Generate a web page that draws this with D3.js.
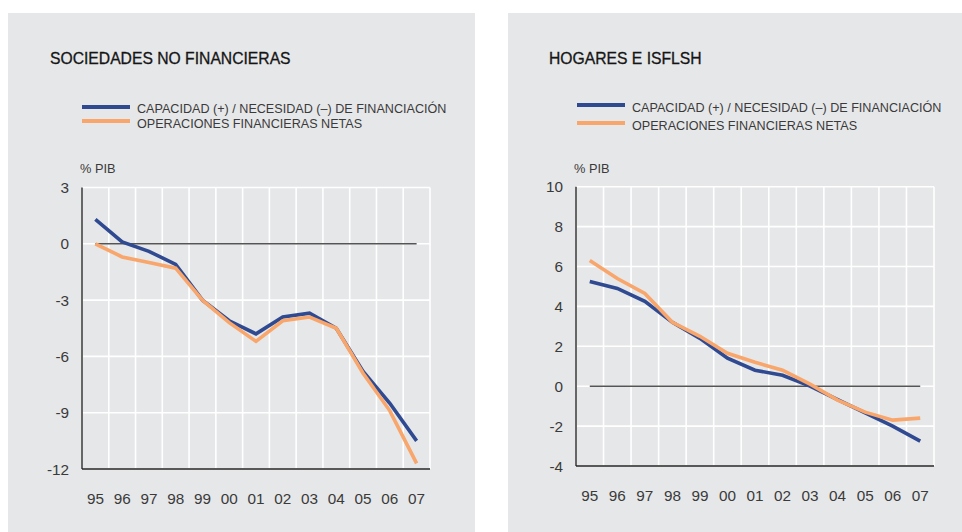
<!DOCTYPE html>
<html>
<head>
<meta charset="utf-8">
<script src="https://cdn.jsdelivr.net/npm/d3@7"></script>
<style>
  body { margin: 0; background: #fff; }
  text { font-family: "Liberation Sans", Arial, sans-serif; }
</style>
</head>
<body>
<svg id="chart" width="962" height="532"></svg>
<script>
// years on the x axis
const years = ["95", "96", "97", "98", "99", "00", "01", "02", "03", "04", "05", "06", "07"];
const legendLabels = ["CAPACIDAD (+) / NECESIDAD (–) DE FINANCIACIÓN", "OPERACIONES FINANCIERAS NETAS"];

// Sociedades no financieras (% PIB)
const sociedadesCapacidad = [1.3, 0.1, -0.4, -1.1, -3.0, -4.1, -4.8, -3.9, -3.7, -4.5, -6.8, -8.5, -10.5];
const sociedadesOperaciones = [0.0, -0.7, -1.0, -1.3, -3.0, -4.2, -5.2, -4.1, -3.9, -4.5, -6.9, -8.9, -11.7];
const sociedadesTicks = [3, 0, -3, -6, -9, -12];

// Hogares e ISFLSH (% PIB)
const hogaresCapacidad = [5.25, 4.9, 4.25, 3.2, 2.4, 1.4, 0.8, 0.55, 0.0, -0.67, -1.34, -2.0, -2.75];
const hogaresOperaciones = [6.3, 5.4, 4.65, 3.2, 2.5, 1.65, 1.2, 0.8, 0.1, -0.7, -1.3, -1.7, -1.6];
const hogaresTicks = [10, 8, 6, 4, 2, 0, -2, -4];

const blue = "#2f4a91", orange = "#f8a66b";
const svg = d3.select("#chart");

function panel(cfg) {
	// gray box behind each chart
	svg.append("rect")
		.attr("x", cfg.box[0]).attr("y", cfg.box[1])
		.attr("width", cfg.box[2]).attr("height", cfg.box[3])
		.attr("fill", "#e6e7e9");

	svg.append("text")
		.attr("x", cfg.titleX).attr("y", 64)
		.attr("font-size", 15.7).attr("fill", "#151515")
		.attr("stroke", "#151515").attr("stroke-width", 0.3)
		.text(cfg.title);

	// legend
	legendLabels.forEach((lab, i) => {
		svg.append("line")
			.attr("x1", cfg.legX).attr("x2", cfg.legX + 48)
			.attr("y1", cfg.legY[i]).attr("y2", cfg.legY[i])
			.attr("stroke", i === 0 ? blue : orange)
			.attr("stroke-width", 4);
		svg.append("text")
			.attr("x", cfg.legX + 55).attr("y", cfg.legText[i])
			.attr("font-size", 12.6).attr("fill", "#3a3a3a")
			.text(lab);
	});

	svg.append("text")
		.attr("x", cfg.left - 2).attr("y", 173)
		.attr("font-size", 12.8).attr("fill", "#3a3a3a")
		.text("% PIB");

	const x = d3.scaleBand().domain(years).range([cfg.left, cfg.right]);
	const y = d3.scaleLinear().domain(cfg.domain).range([cfg.bottom, cfg.top]);

	const g = svg.append("g");

	// vertical white grid at band edges
	g.selectAll("line.vg")
		.data(years)
		.join("line")
		.attr("x1", d => x(d) + x.bandwidth()).attr("x2", d => x(d) + x.bandwidth())
		.attr("y1", cfg.top).attr("y2", cfg.bottom)
		.attr("stroke", "#fff").attr("stroke-width", 1.6);

	// horizontal grid
	g.selectAll("line.hg")
		.data(cfg.ticks)
		.join("line")
		.attr("x1", cfg.left).attr("x2", cfg.right)
		.attr("y1", d => y(d)).attr("y2", d => y(d))
		.attr("stroke", "#fff").attr("stroke-width", 1.6);

	// y tick labels
	g.selectAll("text.yt")
		.data(cfg.ticks)
		.join("text")
		.attr("x", cfg.left - 13).attr("y", d => y(d) + 5.5)
		.attr("text-anchor", "end")
		.attr("font-size", 15.3).attr("fill", "#3a3a3a")
		.text(d => d);

	// x tick labels
	g.selectAll("text.xt")
		.data(years)
		.join("text")
		.attr("x", d => x(d) + x.bandwidth() / 2).attr("y", cfg.bottom + 35)
		.attr("text-anchor", "middle")
		.attr("font-size", 15.3).attr("fill", "#3a3a3a")
		.text(d => d);

	// zero line from first to last point
	g.append("line")
		.attr("x1", x(years[0]) + x.bandwidth() / 2)
		.attr("x2", x(years[years.length - 1]) + x.bandwidth() / 2)
		.attr("y1", y(0)).attr("y2", y(0))
		.attr("stroke", "#555").attr("stroke-width", 1.4);

	// axes
	g.append("line")
		.attr("x1", cfg.left).attr("x2", cfg.left)
		.attr("y1", cfg.top).attr("y2", cfg.bottom)
		.attr("stroke", "#666").attr("stroke-width", 2);
	g.append("line")
		.attr("x1", cfg.left).attr("x2", cfg.right)
		.attr("y1", cfg.bottom).attr("y2", cfg.bottom)
		.attr("stroke", "#222").attr("stroke-width", 1.5);

	const line = d3.line()
		.x((d, i) => x(years[i]) + x.bandwidth() / 2)
		.y(d => y(d));

	[[cfg.series[0], blue], [cfg.series[1], orange]].forEach(([vals, col]) => {
		g.append("path")
			.attr("d", line(vals))
			.attr("fill", "none")
			.attr("stroke", col)
			.attr("stroke-width", 3.6);
	});
}

panel({
	box: [8, 13, 467, 519],
	title: "SOCIEDADES NO FINANCIERAS", titleX: 50,
	legX: 82, legY: [107, 121], legText: [113, 128],
	left: 82, right: 430, top: 187.5, bottom: 469,
	domain: [-12, 3], ticks: sociedadesTicks,
	series: [sociedadesCapacidad, sociedadesOperaciones]
});

panel({
	box: [508, 13, 454, 519],
	title: "HOGARES E ISFLSH", titleX: 549,
	legX: 577, legY: [105, 123], legText: [112, 130],
	left: 576, right: 934, top: 186.7, bottom: 466,
	domain: [-4, 10], ticks: hogaresTicks,
	series: [hogaresCapacidad, hogaresOperaciones]
});
</script>
</body>
</html>
